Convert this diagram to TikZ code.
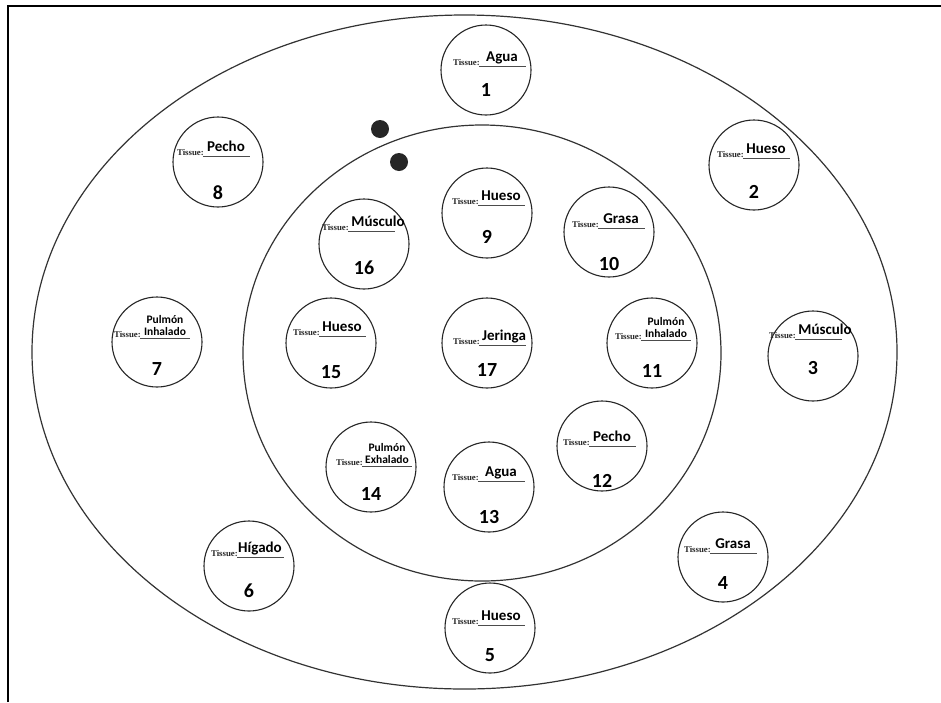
\documentclass[tikz,border=0pt]{standalone}
\usepackage{fontspec}
\usetikzlibrary{shapes.geometric}
\newfontfamily\lblfont{Carlito}
\newfontfamily\tisfont{Liberation Serif}
\tikzset{
  tcirc/.style={circle, draw=black!85, line width=1.1pt, minimum size=90pt, inner sep=0pt},
  tis/.style={font=\tisfont\bfseries\fontsize{8.8}{10}\selectfont, inner sep=0pt, anchor=base east, text=black!85},
  lbl/.style={font=\lblfont\bfseries\fontsize{15}{15}\selectfont, inner sep=0pt, anchor=base},
  lbltwo/.style={font=\lblfont\bfseries\fontsize{11.5}{12.5}\selectfont, inner sep=0pt, anchor=south, align=center},
  num/.style={font=\lblfont\bfseries\fontsize{20}{20}\selectfont, inner sep=0pt},
  uline/.style={draw=black!70, line width=0.7pt},
  frame/.style={draw=black, line width=2.5pt},
  ring/.style={draw=black!80, line width=1.2pt},
  dotmark/.style={circle, fill=black!85, minimum size=18pt, inner sep=0pt}
}
% name, cx, cy, tissue-end x, underline y, number y, label, number, label x offset
\newcommand\tcnode[9]{%
  \node[tcirc] (#1) at (#2,#3) {};
  \node[tis] (#1t) at (#4+1,#5-1) {Tissue:};
  \coordinate (#1a) at (#4,#5);
  \coordinate (#1b) at (#4+47,#5);
  \draw[uline] (#1a) -- (#1b);
  \node[lbl] (#1l) at (#4+#9,#5-5) {#7};
  \node[num] (#1n) at (#2,#6) {#8};
}
\newcommand\tctwo[8]{%
  \node[tcirc] (#1) at (#2,#3) {};
  \node[tis] (#1t) at (#4+1,#5-1) {Tissue:};
  \coordinate (#1a) at (#4,#5);
  \coordinate (#1b) at (#4+50,#5);
  \draw[uline] (#1a) -- (#1b);
  \node[lbltwo] (#1l) at (#4+25,#5-2) {#7};
  \node[num] (#1n) at (#2,#6) {#8};
}
\begin{document}
\begin{tikzpicture}[x=1pt,y=-1pt]
\useasboundingbox (0,0) rectangle (941,702);
\fill[white] (0,0) rectangle (941,702);
\coordinate (f1) at (8,702);
\coordinate (f2) at (8,6);
\coordinate (f3) at (941,6);
\draw[frame] (f1) -- (f2) -- (f3);
\node[ring, ellipse, minimum width=865pt, minimum height=674pt, inner sep=0pt] (outer) at (464.5,352) {};
\node[ring, ellipse, minimum width=478pt, minimum height=456pt, inner sep=0pt] (inner) at (482,353) {};
\node[dotmark] (d1) at (380,129) {};
\node[dotmark] (d2) at (399,162) {};
\tcnode{c1}{486}{70}{479}{66}{90}{Agua}{1}{23}
\tcnode{c2}{754}{165}{743}{158}{192}{Hueso}{2}{23}
\tcnode{c3}{813}{356}{795}{339}{368}{Músculo}{3}{30}
\tcnode{c4}{723}{557}{710}{553}{583}{Grasa}{4}{23}
\tcnode{c5}{490}{628}{478}{625}{655}{Hueso}{5}{23}
\tcnode{c6}{249}{566}{237}{557}{591}{Hígado}{6}{23}
\tctwo{c7}{157}{342}{140}{338}{369}{Pulmón\\Inhalado}{7}
\tcnode{c8}{218}{162}{203}{156}{193}{Pecho}{8}{23}
\tcnode{c9}{487}{213}{478}{205}{237}{Hueso}{9}{23}
\tcnode{c10}{609}{232}{598}{228}{264}{Grasa}{10}{23}
\tctwo{c11}{652}{343}{641}{340}{371}{Pulmón\\Inhalado}{11}
\tcnode{c12}{602}{446}{589}{446}{481}{Pecho}{12}{23}
\tcnode{c13}{489}{487}{478}{481}{517}{Agua}{13}{23}
\tctwo{c14}{371}{467}{362}{466}{494}{Pulmón\\Exhalado}{14}
\tcnode{c15}{331}{343}{319}{336}{372}{Hueso}{15}{23}
\tcnode{c16}{364}{244}{348}{231}{268}{Músculo}{16}{30}
\tcnode{c17}{487}{343}{479}{345}{370}{Jeringa}{17}{25}
\end{tikzpicture}
\end{document}
